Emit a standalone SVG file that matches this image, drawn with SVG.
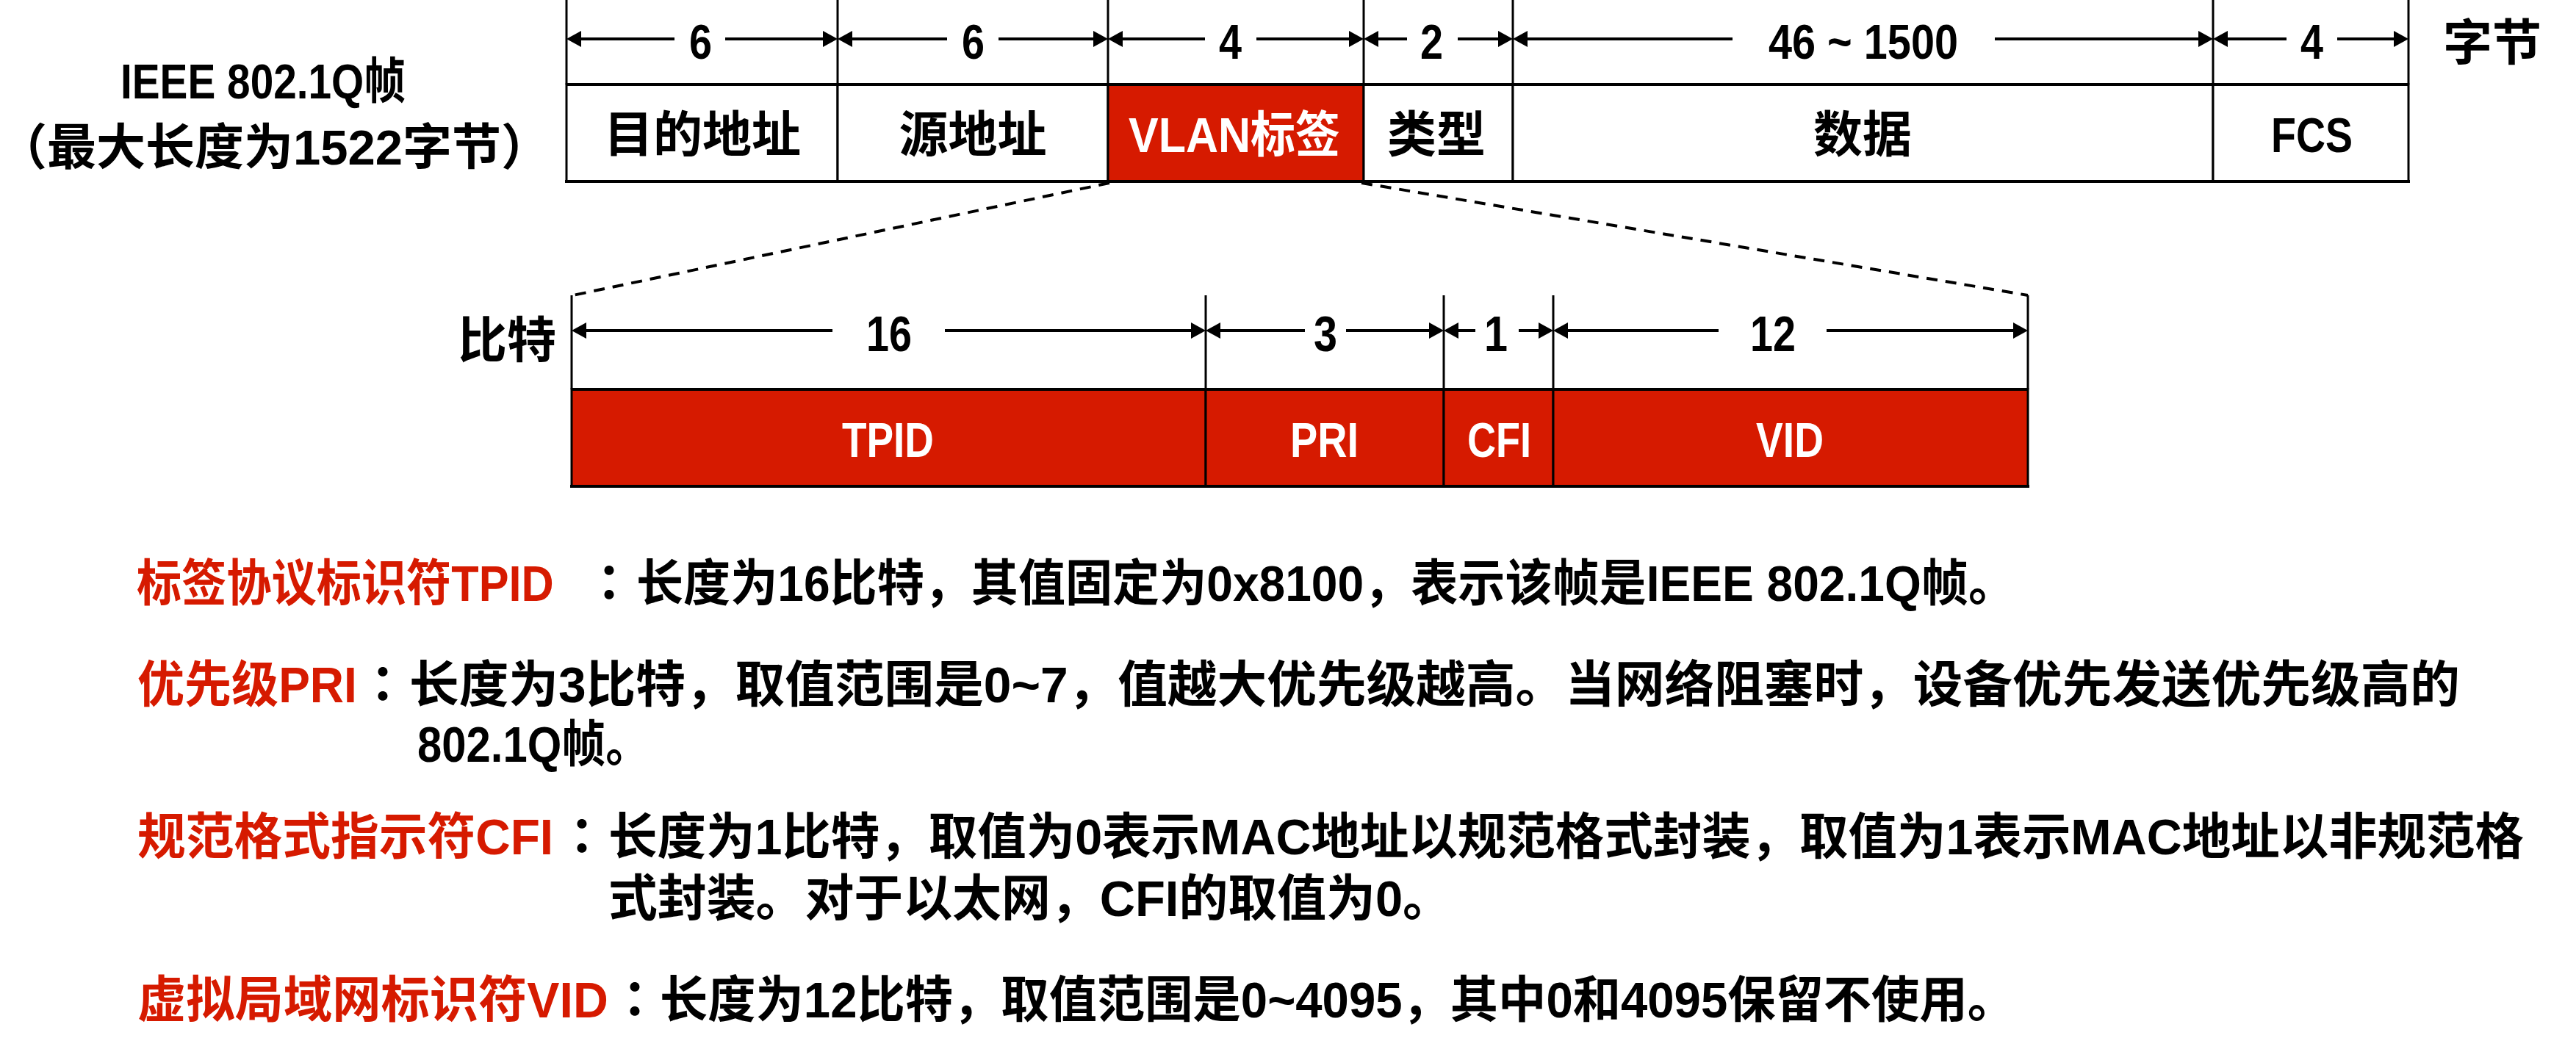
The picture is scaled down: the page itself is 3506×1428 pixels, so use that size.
<svg xmlns="http://www.w3.org/2000/svg" width="3506" height="1428" viewBox="0 0 3506 1428">
<style>
.t{font-family:"Liberation Sans Narrow","Arial Narrow","Liberation Sans","Noto Sans CJK SC",sans-serif;font-weight:bold;font-size:67px;fill:#000}
.b{font-size:68px}
.w{fill:#fff}
.r{fill:#D61A00}
.c{font-family:"Noto Sans CJK TC","Noto Sans CJK SC",sans-serif;font-weight:bold;font-size:68px;fill:#000}
.m{text-anchor:middle}
.cell{stroke:#000;stroke-width:3}
.ln{stroke:#000;stroke-width:3;fill:none}
.hl{stroke:#000;stroke-width:4;fill:none}
.dim{stroke:#000;stroke-width:4;fill:none;marker-end:url(#arr)}
.dash{stroke:#000;stroke-width:4;fill:none;stroke-dasharray:15 11}
</style>
<defs>
<marker id="arr" viewBox="0 0 20 22" refX="10" refY="11" markerWidth="20" markerHeight="22" markerUnits="userSpaceOnUse" orient="auto">
<path d="M0,0 L20,11 L0,22 z" fill="#000"/>
</marker>
</defs>
<rect width="3506" height="1428" fill="#fff"/>

<g id="frame-title">
<text class="t" x="164" y="134" textLength="388" lengthAdjust="spacingAndGlyphs">IEEE 802.1Q帧</text>
<text class="t m" x="373" y="224">（最大长度为1522字节）</text>
</g>

<g id="cell-dst"><rect class="cell" x="771" y="115" width="369" height="132" fill="#fff"/><text class="t m" x="956" y="207">目的地址</text></g>
<g id="cell-src"><rect class="cell" x="1140" y="115" width="368" height="132" fill="#fff"/><text class="t m" x="1324" y="207">源地址</text></g>
<g id="cell-vlan"><rect class="cell r" x="1508" y="115" width="348" height="132"/><text class="t w" x="1536" y="207" textLength="288" lengthAdjust="spacingAndGlyphs">VLAN标签</text></g>
<g id="cell-type"><rect class="cell" x="1856" y="115" width="203" height="132" fill="#fff"/><text class="t m" x="1955" y="207">类型</text></g>
<g id="cell-data"><rect class="cell" x="2059" y="115" width="953" height="132" fill="#fff"/><text class="t m" x="2535" y="207">数据</text></g>
<g id="cell-fcs"><rect class="cell" x="3012" y="115" width="266" height="132" fill="#fff"/><text class="t" x="3091" y="207" textLength="111" lengthAdjust="spacingAndGlyphs">FCS</text></g>

<g id="frame-top-lines">
<line class="hl" x1="771" y1="115" x2="3278" y2="115"/>
<line class="hl" x1="769" y1="247" x2="3280" y2="247"/>
<line class="ln" x1="771" y1="0" x2="771" y2="115"/>
<line class="ln" x1="1140" y1="0" x2="1140" y2="115"/>
<line class="ln" x1="1508" y1="0" x2="1508" y2="115"/>
<line class="ln" x1="1856" y1="0" x2="1856" y2="115"/>
<line class="ln" x1="2059" y1="0" x2="2059" y2="115"/>
<line class="ln" x1="3012" y1="0" x2="3012" y2="115"/>
<line class="ln" x1="3278" y1="0" x2="3278" y2="115"/>
</g>

<g id="dims-top">
<line class="dim" x1="918" y1="53" x2="781" y2="53"/><line class="dim" x1="987" y1="53" x2="1130" y2="53"/>
<text class="t" x="938" y="80" textLength="31" lengthAdjust="spacingAndGlyphs">6</text>
<line class="dim" x1="1289" y1="53" x2="1150" y2="53"/><line class="dim" x1="1359" y1="53" x2="1498" y2="53"/>
<text class="t" x="1309" y="80" textLength="31" lengthAdjust="spacingAndGlyphs">6</text>
<line class="dim" x1="1640" y1="53" x2="1518" y2="53"/><line class="dim" x1="1710" y1="53" x2="1846" y2="53"/>
<text class="t" x="1659" y="80" textLength="31" lengthAdjust="spacingAndGlyphs">4</text>
<line class="dim" x1="1915" y1="53" x2="1866" y2="53"/><line class="dim" x1="1984" y1="53" x2="2049" y2="53"/>
<text class="t" x="1933" y="80" textLength="31" lengthAdjust="spacingAndGlyphs">2</text>
<line class="dim" x1="2358" y1="53" x2="2069" y2="53"/><line class="dim" x1="2715" y1="53" x2="3002" y2="53"/>
<text class="t" x="2407" y="80" textLength="258" lengthAdjust="spacingAndGlyphs">46 ~ 1500</text>
<line class="dim" x1="3112" y1="53" x2="3022" y2="53"/><line class="dim" x1="3181" y1="53" x2="3268" y2="53"/>
<text class="t" x="3131" y="80" textLength="31" lengthAdjust="spacingAndGlyphs">4</text>
<text class="t m" x="3392" y="82">字节</text>
</g>

<g id="connectors">
<line class="dash" x1="1510" y1="249" x2="780" y2="402"/>
<line class="dash" x1="1853" y1="249" x2="2760" y2="402"/>
</g>

<g id="bits-title"><text class="t m" x="690" y="487">比特</text></g>

<g id="bit-tpid"><rect class="cell r" x="778" y="530" width="863" height="132"/><text class="t w" x="1146" y="622" textLength="125" lengthAdjust="spacingAndGlyphs">TPID</text></g>
<g id="bit-pri"><rect class="cell r" x="1641" y="530" width="324" height="132"/><text class="t w" x="1756" y="622" textLength="93" lengthAdjust="spacingAndGlyphs">PRI</text></g>
<g id="bit-cfi"><rect class="cell r" x="1965" y="530" width="149" height="132"/><text class="t w" x="1997" y="622" textLength="87" lengthAdjust="spacingAndGlyphs">CFI</text></g>
<g id="bit-vid"><rect class="cell r" x="2114" y="530" width="646" height="132"/><text class="t w" x="2390" y="622" textLength="92" lengthAdjust="spacingAndGlyphs">VID</text></g>

<g id="frame-bits-lines">
<line class="hl" x1="778" y1="530" x2="2760" y2="530"/>
<line class="hl" x1="776" y1="662" x2="2762" y2="662"/>
<line class="ln" x1="778" y1="402" x2="778" y2="530"/>
<line class="ln" x1="1641" y1="402" x2="1641" y2="530"/>
<line class="ln" x1="1965" y1="402" x2="1965" y2="530"/>
<line class="ln" x1="2114" y1="402" x2="2114" y2="530"/>
<line class="ln" x1="2760" y1="402" x2="2760" y2="530"/>
</g>

<g id="dims-bits">
<line class="dim" x1="1133" y1="450" x2="788" y2="450"/><line class="dim" x1="1286" y1="450" x2="1631" y2="450"/>
<text class="t b" x="1179" y="478" textLength="62" lengthAdjust="spacingAndGlyphs">16</text>
<line class="dim" x1="1776" y1="450" x2="1651" y2="450"/><line class="dim" x1="1832" y1="450" x2="1955" y2="450"/>
<text class="t b" x="1788" y="478" textLength="32" lengthAdjust="spacingAndGlyphs">3</text>
<line class="dim" x1="2008" y1="450" x2="1975" y2="450"/><line class="dim" x1="2067" y1="450" x2="2104" y2="450"/>
<text class="t b" x="2020" y="478" textLength="32" lengthAdjust="spacingAndGlyphs">1</text>
<line class="dim" x1="2339" y1="450" x2="2124" y2="450"/><line class="dim" x1="2486" y1="450" x2="2750" y2="450"/>
<text class="t b" x="2382" y="478" textLength="62" lengthAdjust="spacingAndGlyphs">12</text>
</g>

<g id="desc-tpid">
<text class="t b r" transform="matrix(0.9,0,0,1,186,818)">标签协议标识符TPID</text>
<text class="c" x="795" y="818">：</text>
<text class="t b" x="866" y="818" textLength="1877" lengthAdjust="spacingAndGlyphs">长度为16比特，其值固定为0x8100，表示该帧是IEEE 802.1Q帧。</text>
</g>

<g id="desc-pri">
<text class="t b r" transform="matrix(0.942,0,0,1,187,956)">优先级PRI</text>
<text class="c" x="487" y="956">：</text>
<text class="t b" x="557" y="956" textLength="2791" lengthAdjust="spacingAndGlyphs">长度为3比特，取值范围是0~7，值越大优先级越高。当网络阻塞时，设备优先发送优先级高的</text>
<text class="t b" x="568" y="1037" textLength="316" lengthAdjust="spacingAndGlyphs">802.1Q帧。</text>
</g>

<g id="desc-cfi">
<text class="t b r" transform="matrix(0.967,0,0,1,187,1163)">规范格式指示符CFI</text>
<text class="c" x="758" y="1163">：</text>
<text class="t b" x="828" y="1163" textLength="2607" lengthAdjust="spacingAndGlyphs">长度为1比特，取值为0表示MAC地址以规范格式封装，取值为1表示MAC地址以非规范格</text>
<text class="t b" x="828" y="1247" textLength="1148" lengthAdjust="spacingAndGlyphs">式封装。对于以太网，CFI的取值为0。</text>
</g>

<g id="desc-vid">
<text class="t b r" transform="matrix(0.975,0,0,1,187,1385)">虚拟局域网标识符VID</text>
<text class="c" x="830" y="1385">：</text>
<text class="t b" x="898" y="1385" textLength="1845" lengthAdjust="spacingAndGlyphs">长度为12比特，取值范围是0~4095，其中0和4095保留不使用。</text>
</g>
</svg>
